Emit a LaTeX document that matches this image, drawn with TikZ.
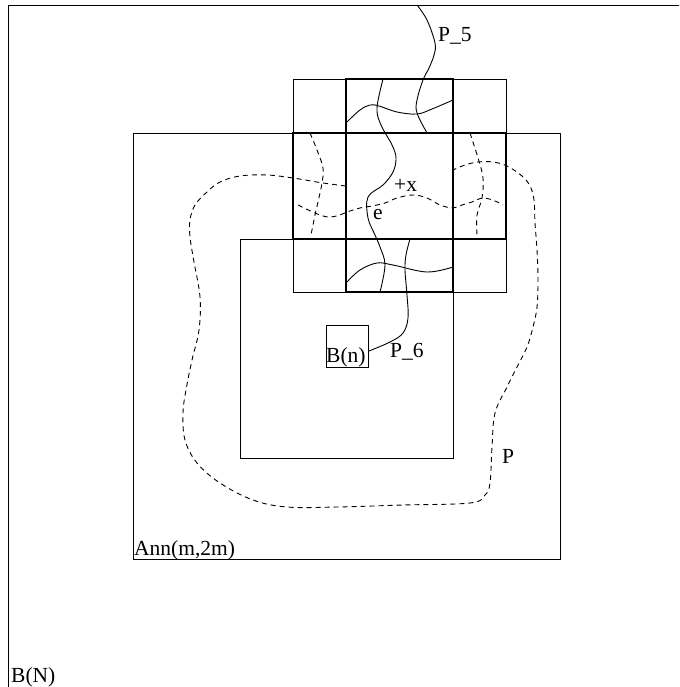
\documentclass[tikz,border=0pt]{standalone}
\usepackage{fontspec}
\setmainfont{Liberation Serif}
\begin{document}
\begin{tikzpicture}[
    x=1pt, y=-1pt,
    every node/.style={font=\fontsize{21.5}{25}\selectfont, inner sep=0pt},
    thinline/.style={draw, line width=0.8pt},
    thickline/.style={draw, line width=1.7pt},
    pathline/.style={line width=0.9pt},
    dashline/.style={line width=0.9pt, dash pattern=on 5pt off 4pt},
    lbl/.style={anchor=base west},
]
\useasboundingbox (0,0) rectangle (679,687);
\clip (0,0) rectangle (679,687);

% ---- Outer box B(N) ----
\draw[thinline] (8,5) rectangle (700,700);
\node[lbl] (bN) at (11,682) {B(N)};

% ---- Annulus Ann(m,2m) ----
\draw[thinline] (133,133) rectangle (560,559);
\node[lbl] (ann) at (134,555) {Ann(m,2m)};

% ---- Inner box ----
\draw[thinline] (240,239) rectangle (453,458);

% ---- Small box B(n) ----
\draw[thinline] (326,325) rectangle (368,367);
\node[lbl] (bn) at (326,362) {B(n)};

% ---- 3x3 block grid ----
\draw[thinline] (293,79) rectangle (506,292);
\draw[thinline] (346,79) -- (346,292) (453,79) -- (453,292);
\draw[thinline] (293,133) -- (506,133) (293,239) -- (506,239);
\draw[thickline] (346,79) -- (453,79) -- (453,133) -- (506,133) -- (506,239)
    -- (453,239) -- (453,292) -- (346,292) -- (346,239) -- (293,239)
    -- (293,133) -- (346,133) -- cycle;
\draw[thickline] (346,133) rectangle (453,239);

% ---- Solid crossings ----
\draw[pathline] plot[smooth, tension=0.6] coordinates {(417,5) (427,20) (435,43) (434,55) (429,68) (423,80) (417,100) (417,113) (427,133)};
\node[lbl] (p5) at (438,42) {P\_5};
\draw[pathline] plot[smooth, tension=0.6] coordinates {(383,79) (377,108) (381,125) (392,145) (396,158) (393,172) (383,185) (368,197) (368,218) (375,235) (380,247) (385,265) (380,292)};
\draw[pathline] plot[smooth, tension=0.6] coordinates {(347,122) (360,110) (370,105) (379,106) (397,112) (417,114) (432,109) (453,100)};
\draw[pathline] plot[smooth, tension=0.6] coordinates {(347,282) (360,270) (377,263) (393,265) (427,272) (453,267)};
\draw[pathline] plot[smooth, tension=0.6] coordinates {(410,239) (406,255) (405,270) (407,295) (408,318) (403,333) (390,342) (369,351)};
\node[lbl] (p6) at (390,357) {P\_6};

% ---- Dashed loop P ----
\draw[dashline] plot[smooth, tension=0.6] coordinates {(346,186) (323,183) (293,178) (267,175) (240,176) (220,182) (207,192) (195,205) (190,220) (190,237) (194,262) (200,297) (199,330) (192,360) (186,390) (183,413) (185,440) (197,463) (220,483) (253,500) (287,507) (337,507) (403,505) (470,503) (485,495) (490,483) (492,447) (495,413) (507,387) (517,367) (527,347) (533,327) (537,307) (538,280) (537,250) (535,223) (534,200) (530,186) (522,176) (507,166) (493,162) (478,162) (465,165) (453,170)};
\node[lbl] (pP) at (502,463) {P};

% ---- Dashed crossings ----
\draw[dashline] plot[smooth, tension=0.6] coordinates {(298,205) (315,213) (328,217) (340,215) (347,212) (360,208) (372,206) (385,203) (397,198) (413,195) (427,198) (440,205) (453,208) (462,205) (472,202) (483,198) (495,201) (503,205)};
\draw[dashline] plot[smooth, tension=0.6] coordinates {(310,133) (317,150) (323,168) (322,183) (318,202) (315,215) (311,235)};
\draw[dashline] plot[smooth, tension=0.6] coordinates {(470,133) (478,158) (483,178) (482,198) (477,215) (477,235)};

% ---- Point x and edge e ----
\node[lbl] (px) at (394,191) {+x};
\node[lbl] (pe) at (373,219) {e};

\end{tikzpicture}
\end{document}
